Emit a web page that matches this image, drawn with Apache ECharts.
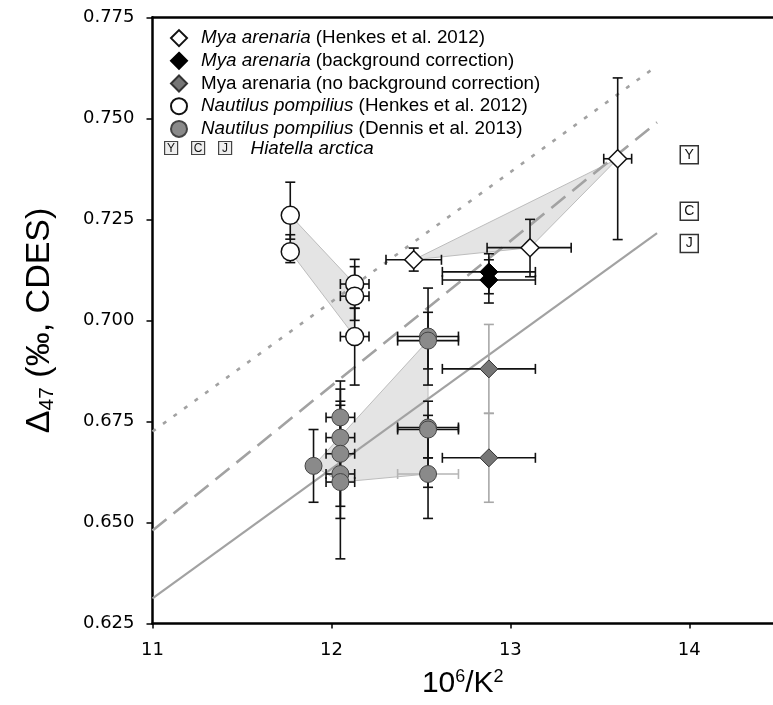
<!DOCTYPE html>
<html><head><meta charset="utf-8">
<script src="https://cdn.jsdelivr.net/npm/echarts@6/dist/echarts.min.js"></script>
<style>html,body{margin:0;padding:0;background:#fff}#c{width:773px;height:705px}</style>
</head><body><div id="c"></div>
<script>
// ---------- DATA ----------
const xTicks = [11, 12, 13, 14];
const yTicks = [0.625, 0.650, 0.675, 0.700, 0.725, 0.750, 0.775];

// Mya arenaria (Henkes et al. 2012)
const myaHenkesPts  = [[12.46, 0.715], [13.11, 0.718], [13.60, 0.740]];
const myaHenkesXErr = [[12.305, 12.615], [12.87, 13.34], [13.522, 13.678]];
const myaHenkesYErr = [[0.7122, 0.7179], [0.7108, 0.725], [0.720, 0.760]];

// Mya arenaria (background correction)
const myaBgPts  = [[12.88, 0.712], [12.88, 0.710]];
const myaBgXErr = [[12.62, 13.14], [12.62, 13.14]];
const myaBgYErr = [[0.7066, 0.7165], [0.7043, 0.715]];

// Mya arenaria (no background correction)
const myaNoBgPts  = [[12.88, 0.688], [12.88, 0.666]];
const myaNoBgXErr = [[12.62, 13.14], [12.62, 13.14]];
const myaNoBgYErr = [[0.677, 0.699], [0.655, 0.677]];

// Nautilus pompilius (Henkes et al. 2012)
const nautHenkesPts  = [[11.77, 0.726], [11.77, 0.717], [12.13, 0.709], [12.13, 0.706], [12.13, 0.696]];
const nautHenkesXErr = [[11.75, 11.79], [11.75, 11.79], [12.05, 12.21], [12.05, 12.21], [12.05, 12.21]];
const nautHenkesYErr = [[0.7201, 0.7342], [0.7143, 0.7212], [0.703, 0.7151], [0.700, 0.7133], [0.684, 0.703]];

// Nautilus pompilius (Dennis et al. 2013)
const nautDennisPts  = [[11.90, 0.664], [12.05, 0.676], [12.05, 0.671], [12.05, 0.667], [12.05, 0.662], [12.05, 0.660],
                        [12.54, 0.696], [12.54, 0.695], [12.54, 0.6735], [12.54, 0.673]];
const nautDennisXErr = [[11.89, 11.91], [11.97, 12.13], [11.97, 12.13], [11.97, 12.13], [11.97, 12.13], [11.97, 12.13],
                        [12.37, 12.71], [12.37, 12.71], [12.37, 12.71], [12.37, 12.71]];
const nautDennisYErr = [[0.655, 0.673], [0.667, 0.685], [0.659, 0.683], [0.654, 0.680], [0.651, 0.679], [0.641, 0.6775],
                        [0.684, 0.708], [0.688, 0.702], [0.666, 0.680], [0.6587, 0.6765]];
const nautDennisLowPt   = [[12.54, 0.662]];
const nautDennisLowXErr = [[12.37, 12.71]];
const nautDennisLowYErr = [[0.651, 0.666]];

// Hiatella arctica
const hiatellaLabels = ['Y', 'C', 'J'];
const hiatellaPts = [[14.0, 0.741], [14.0, 0.727], [14.0, 0.719]];

// reference lines
const solidLine  = [[11, 0.6312], [13.82, 0.7216]];
const dashedLine = [[11, 0.648], [13.82, 0.749]];
const dottedLine = [[11, 0.6725], [13.82, 0.763]];

// shaded envelopes
const envelopes = [
  [[11.77, 0.726], [12.13, 0.709], [12.13, 0.696], [11.77, 0.717]],
  [[12.46, 0.715], [13.60, 0.740], [13.11, 0.718]],
  [[11.90, 0.664], [12.54, 0.695], [12.54, 0.662], [12.05, 0.660]]
];

// ---------- CHART ----------
const names = [
  'Mya arenaria (Henkes et al. 2012)',
  'Mya arenaria (background correction)',
  'Mya arenaria (no background correction)',
  'Nautilus pompilius (Henkes et al. 2012)',
  'Nautilus pompilius (Dennis et al. 2013)'
];
const legendFmt = {};
legendFmt[names[0]] = '{sp|}{i|Mya arenaria}{n| (Henkes et al. 2012)}';
legendFmt[names[1]] = '{sp|}{i|Mya arenaria}{n| (background correction)}';
legendFmt[names[2]] = '{sp|}{n|Mya arenaria (no background correction)}';
legendFmt[names[3]] = '{sp|}{i|Nautilus pompilius}{n| (Henkes et al. 2012)}';
legendFmt[names[4]] = '{sp|}{i|Nautilus pompilius}{n| (Dennis et al. 2013)}';

const XMAX = 14.468;
const LFONT = 18.8;
const chart = echarts.init(document.getElementById('c'), null, {renderer: 'canvas'});

function barSeries(pts, errs, dir, color) {
  return {
    type: 'custom', xAxisIndex: 0, yAxisIndex: 0, z: 3, silent: true,
    data: pts.map((p, i) => [p[0], p[1], errs[i][0], errs[i][1]]),
    renderItem: function (params, api) {
      const x = api.value(0), y = api.value(1), lo = api.value(2), hi = api.value(3);
      const cap = 5;
      const st = {stroke: color, lineWidth: 1.6};
      let a, b, kids;
      if (dir === 'y') {
        a = api.coord([x, lo]); b = api.coord([x, hi]);
        kids = [
          {type: 'line', shape: {x1: a[0], y1: a[1], x2: b[0], y2: b[1]}, style: st},
          {type: 'line', shape: {x1: a[0] - cap, y1: a[1], x2: a[0] + cap, y2: a[1]}, style: st},
          {type: 'line', shape: {x1: b[0] - cap, y1: b[1], x2: b[0] + cap, y2: b[1]}, style: st}
        ];
      } else {
        a = api.coord([lo, y]); b = api.coord([hi, y]);
        kids = [
          {type: 'line', shape: {x1: a[0], y1: a[1], x2: b[0], y2: b[1]}, style: st},
          {type: 'line', shape: {x1: a[0], y1: a[1] - cap, x2: a[0], y2: a[1] + cap}, style: st},
          {type: 'line', shape: {x1: b[0], y1: b[1] - cap, x2: b[0], y2: b[1] + cap}, style: st}
        ];
      }
      return {type: 'group', children: kids};
    }
  };
}

function lineSeries(pts, type, width) {
  return {
    type: 'line', data: pts, symbol: 'none', z: 2, silent: true,
    lineStyle: {color: '#a2a2a2', width: width, type: type}
  };
}

const series = [
  {
    type: 'custom', z: 1, silent: true,
    data: envelopes.map((e, i) => [e[0][0], e[0][1], i]),
    renderItem: function (params, api) {
      const poly = envelopes[api.value(2)].map(p => api.coord(p));
      return {type: 'polygon', shape: {points: poly},
        style: {fill: '#e4e4e4', stroke: '#bdbdbd', lineWidth: 1}};
    }
  },
  lineSeries(solidLine, 'solid', 2.2),
  lineSeries(dashedLine, [18, 9], 2.6),
  lineSeries(dottedLine, [4, 9], 2.6),

  barSeries(myaHenkesPts, myaHenkesYErr, 'y', '#111'),
  barSeries(myaHenkesPts, myaHenkesXErr, 'x', '#111'),
  barSeries(myaBgPts, myaBgYErr, 'y', '#111'),
  barSeries(myaBgPts, myaBgXErr, 'x', '#111'),
  barSeries(myaNoBgPts, myaNoBgYErr, 'y', '#a8a8a8'),
  barSeries(myaNoBgPts, myaNoBgXErr, 'x', '#111'),
  barSeries(nautHenkesPts, nautHenkesYErr, 'y', '#111'),
  barSeries(nautHenkesPts, nautHenkesXErr, 'x', '#111'),
  barSeries(nautDennisPts, nautDennisYErr, 'y', '#111'),
  barSeries(nautDennisPts, nautDennisXErr, 'x', '#111'),
  barSeries(nautDennisLowPt, nautDennisLowYErr, 'y', '#111'),
  barSeries(nautDennisLowPt, nautDennisLowXErr, 'x', '#b5b5b5'),

  {name: names[0], type: 'scatter', symbol: 'diamond', symbolSize: 18, z: 4, data: myaHenkesPts,
    itemStyle: {color: '#fff', borderColor: '#111', borderWidth: 1.5, opacity: 1}},
  {name: names[1], type: 'scatter', symbol: 'diamond', symbolSize: 18, z: 4, data: myaBgPts,
    itemStyle: {color: '#000', borderColor: '#000', borderWidth: 1, opacity: 1}},
  {name: names[2], type: 'scatter', symbol: 'diamond', symbolSize: 18, z: 4, data: myaNoBgPts,
    itemStyle: {color: '#767676', borderColor: '#333', borderWidth: 1, opacity: 1}},
  {name: names[3], type: 'scatter', symbol: 'circle', symbolSize: 18, z: 4, data: nautHenkesPts,
    itemStyle: {color: '#fff', borderColor: '#111', borderWidth: 1.5, opacity: 1}},
  {name: names[4], type: 'scatter', symbol: 'circle', symbolSize: 17, z: 4, data: nautDennisPts.concat(nautDennisLowPt),
    itemStyle: {color: '#8a8a8a', borderColor: '#444', borderWidth: 1, opacity: 1}},
  {name: 'Hiatella arctica', type: 'scatter', symbol: 'rect', symbolSize: 18, z: 4,
    data: hiatellaPts.map((p, i) => ({value: p, name: hiatellaLabels[i]})),
    itemStyle: {color: '#fff', borderColor: '#333', borderWidth: 1.5, opacity: 1},
    label: {show: true, position: 'inside', formatter: '{b}', color: '#111', fontSize: 14,
      fontFamily: 'Liberation Sans'}}
];

const option = {
  backgroundColor: '#fff',
  animation: false,
  grid: {left: 152.5, top: 17.3, right: 0, bottom: 81.5, containLabel: false},
  xAxis: [{
    type: 'value', min: 11, max: XMAX, interval: 1,
    name: '10{sup|6}/K{sup|2}', nameLocation: 'middle', nameGap: 45,
    nameTextStyle: {fontFamily: 'Liberation Sans', fontSize: 30, color: '#000',
      rich: {sup: {fontSize: 18, verticalAlign: 'top', fontFamily: 'Liberation Sans', color: '#000', padding: [0, 0, 12, 0]}}},
    axisLine: {show: true, onZero: false, lineStyle: {color: '#000', width: 2.5}},
    axisTick: {show: true, length: 5, inside: false, lineStyle: {color: '#000', width: 1.5}},
    axisLabel: {show: true, margin: 18, fontFamily: 'DejaVu Sans', fontSize: 18, color: '#000',
      showMaxLabel: false, formatter: v => String(v)},
    splitLine: {show: false}
  }, {
    type: 'value', position: 'top', min: 11, max: XMAX,
    axisLine: {show: true, onZero: false, lineStyle: {color: '#000', width: 2.5}},
    axisTick: {show: false}, axisLabel: {show: false}, splitLine: {show: false}
  }],
  yAxis: [{
    type: 'value', min: 0.625, max: 0.775, interval: 0.025,
    name: '{n|Δ}{sub|47}{n| (‰, CDES)}', nameLocation: 'middle', nameGap: 95, nameRotate: 90,
    nameTextStyle: {fontFamily: 'Liberation Sans', fontSize: 34, color: '#000',
      rich: {n: {fontSize: 34, fontFamily: 'Liberation Sans', color: '#000'},
             sub: {fontSize: 21, fontFamily: 'Liberation Sans', color: '#000', verticalAlign: 'bottom', padding: [14, 0, 0, 0]}}},
    axisLine: {show: true, onZero: false, lineStyle: {color: '#000', width: 2.5}},
    axisTick: {show: true, length: 6, inside: false, lineStyle: {color: '#000', width: 1.5}},
    axisLabel: {show: true, margin: 18, fontFamily: 'DejaVu Sans', fontSize: 18, color: '#000',
      formatter: v => v.toFixed(3)},
    splitLine: {show: false}
  }],
  legend: {
    orient: 'vertical', left: 165, top: 23.6, itemWidth: 16, itemHeight: 16, itemGap: 3.7,
    selectedMode: false,
    data: [
      {name: names[0], icon: 'diamond'}, {name: names[1], icon: 'diamond'}, {name: names[2], icon: 'diamond'},
      {name: names[3], icon: 'circle'}, {name: names[4], icon: 'circle'}
    ],
    formatter: n => legendFmt[n],
    textStyle: {fontFamily: 'Liberation Sans', fontSize: LFONT, color: '#000',
      rich: {
        sp: {width: 9},
        i: {fontStyle: 'italic', fontFamily: 'Liberation Sans', fontSize: LFONT, color: '#000'},
        n: {fontFamily: 'Liberation Sans', fontSize: LFONT, color: '#000'}
      }}
  },
  graphic: [{
    type: 'group', left: 164, top: 139,
    children: [
      {type: 'rect', shape: {x: 0, y: 0, width: 13, height: 13}, style: {fill: '#eeeeee', stroke: '#444', lineWidth: 1.2}},
      {type: 'text', x: 6.5, y: 7, style: {text: 'Y', font: '12px "Liberation Sans"', fill: '#111', align: 'center', verticalAlign: 'middle'}},
      {type: 'rect', shape: {x: 27, y: 0, width: 13, height: 13}, style: {fill: '#eeeeee', stroke: '#444', lineWidth: 1.2}},
      {type: 'text', x: 33.5, y: 7, style: {text: 'C', font: '12px "Liberation Sans"', fill: '#111', align: 'center', verticalAlign: 'middle'}},
      {type: 'rect', shape: {x: 54, y: 0, width: 13, height: 13}, style: {fill: '#eeeeee', stroke: '#444', lineWidth: 1.2}},
      {type: 'text', x: 60.5, y: 7, style: {text: 'J', font: '12px "Liberation Sans"', fill: '#111', align: 'center', verticalAlign: 'middle'}},
      {type: 'text', x: 86, y: 7, style: {text: 'Hiatella arctica', font: 'italic 18.8px "Liberation Sans"', fill: '#000', verticalAlign: 'middle'}}
    ]
  }],
  series: series
};
chart.setOption(option);
</script>
</body></html>
